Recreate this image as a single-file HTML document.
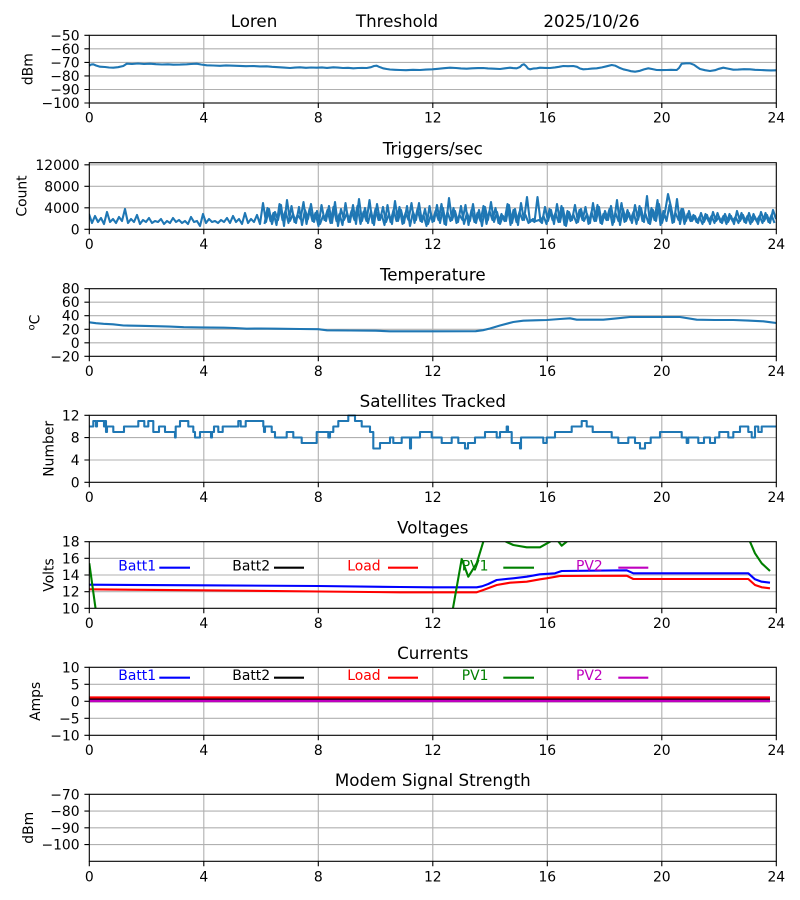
<!DOCTYPE html>
<html><head><meta charset="utf-8"><style>
html,body{margin:0;padding:0;background:#fff;}
svg{display:block;}
text{font-family:"DejaVu Sans","Liberation Sans",sans-serif;fill:#000;}
.t{font-size:13.9px;}
.ti{font-size:16.7px;}
.g{stroke:#b0b0b0;stroke-width:1.1;fill:none;}
.sp{fill:none;stroke:#000;stroke-width:1.1;}
.tk{stroke:#000;stroke-width:1.1;}
.d{fill:none;stroke:#1f77b4;stroke-width:2.1;stroke-linejoin:round;}
</style></head><body>
<svg width="800" height="900" viewBox="0 0 800 900" xmlns="http://www.w3.org/2000/svg">
<rect width="800" height="900" fill="#fff"/>
<defs>
<clipPath id="c5"><rect x="89.3" y="541.7" width="687" height="66.6"/></clipPath>
<clipPath id="c2"><rect x="89.3" y="162.7" width="687" height="66.6"/></clipPath>
</defs>

<!-- ===== Panel 1 ===== -->
<text class="ti" x="254" y="27" text-anchor="middle">Loren</text>
<text class="ti" x="397" y="27" text-anchor="middle">Threshold</text>
<text class="ti" x="591.5" y="27" text-anchor="middle">2025/10/26</text>
<path class="g" d="M89.3 48.8H776.3M89.3 62.4H776.3M89.3 75.9H776.3M89.3 89.5H776.3M203.8 35.3V103M318.3 35.3V103M432.8 35.3V103M547.3 35.3V103M661.8 35.3V103"/>
<polyline class="d" stroke-width="2.3" points="89.3,65.7 91,64.6 93.3,64.3 96,65.5 100,66.7 105,67 109,67.5 113.3,67.7 118,67.2 123.3,66 126.7,63.7 132,64 138,63.5 144,64 150,63.7 156,64.2 162,64.5 168,64.3 173.3,64.7 180,64.6 186.7,64.3 191,64 196.7,63.7 201,64.5 206.7,65.3 213,65.5 220,65.8 226,65.4 233.3,65.7 240,65.9 246,66.2 253.3,66 260,66.4 266.7,66.3 272,66.8 278,67.2 284,67.6 290,68 295,67.6 300,67.3 306,67.8 311,67.5 316.7,67.7 322,67.4 327,67.9 333.3,67.3 338,67.6 343,68 348,67.8 353.3,68.3 358,68 362,67.9 366.7,68 371,67.2 374,66 376.7,65.7 379,66.8 383,68.3 386.7,69 390,69.5 395,69.8 400,70 406,70.2 413,69.8 420,70 426,69.6 432.3,69.3 438,68.8 444,68.2 450,67.7 456,68 461,68.4 466.7,68.7 472,68.3 478,68.1 483.3,68 488,68.4 494,68.7 500,69 505,68.3 510,67.7 513,68.1 516.7,68.3 520,67 522,65 524,64.3 526,66 528,68.5 530,69.3 533,68.6 536.7,68.3 540,67.7 545,67.9 550,68 555,67.4 559,66.8 563.3,66 568,66.2 573.3,66 577,66.8 580,68.5 583.3,69.3 588,69 592,68.6 596.7,68.3 602,67.4 607,66.2 611.7,65 615,65.6 619,67.6 623.3,69.3 628,70.4 631,71.2 635,71.7 640,70.8 644,69.4 648.3,68.3 652,69 656.7,70 661,70.1 666.7,70 671,69.8 676.7,70 679,68 681.7,63.7 686,63.3 690,63.3 694,64.8 697,67 700,69 705,70.2 710,71 715,70.2 719,68.8 723.3,67.7 728,68.6 733.3,69.7 738,69.6 744,69.2 750,69.3 755,69.8 760,70 766.7,70.3 771,70.4 776.3,70.3"/>
<rect class="sp" x="89.3" y="35.3" width="687" height="67.7"/>
<path class="tk" d="M84.4 35.3H89.3M84.4 48.8H89.3M84.4 62.4H89.3M84.4 75.9H89.3M84.4 89.5H89.3M84.4 103H89.3M89.3 103V108M203.8 103V108M318.3 103V108M432.8 103V108M547.3 103V108M661.8 103V108M776.3 103V108"/>
<g class="t" text-anchor="end">
<text x="79.6" y="40.3">−50</text><text x="79.6" y="53.8">−60</text><text x="79.6" y="67.4">−70</text><text x="79.6" y="80.9">−80</text><text x="79.6" y="94.5">−90</text><text x="79.6" y="108">−100</text>
</g>
<g class="t" text-anchor="middle">
<text x="89.3" y="122.5">0</text><text x="203.8" y="122.5">4</text><text x="318.3" y="122.5">8</text><text x="432.8" y="122.5">12</text><text x="547.3" y="122.5">16</text><text x="661.8" y="122.5">20</text><text x="776.3" y="122.5">24</text>
</g>
<text class="t" text-anchor="middle" transform="translate(32.7,69.2) rotate(-90)">dBm</text>

<!-- ===== Panel 2 ===== -->
<text class="ti" x="432.8" y="154.4" text-anchor="middle">Triggers/sec</text>
<path class="g" d="M89.3 164.8H776.3M89.3 186.3H776.3M89.3 207.8H776.3M203.8 162.7V229.3M318.3 162.7V229.3M432.8 162.7V229.3M547.3 162.7V229.3M661.8 162.7V229.3"/>
<g clip-path="url(#c2)">
<polyline class="d" stroke-width="1.6" points="89,214 92,223 95,216 98,222 101,218 104,224 107,212 110,222 113,219 116,223 119,217 122,221 125,209 128,223 131,219 134,222 137,215 140,224 143,220 146,222 149,218 152,223 155,221 158,222 161,219 164,224 167,221 170,223 173,218 176,222 179,220 182,223 185,221 188,224 191,217 194,222 197,221 200,226 203,214 206,223 209,219 212,222 215,221 218,223 221,220 224,222 227,218 230,223 233,216 236,222 239,219 242,224 245,213 248,223 251,219 254,222 257,215 260,224 263,203 266,222 269,209 272,224 275,212 278,220 281,205 284,226 287,200 290,221 293,214 296,223 299,207 302,225 305,210 308,219 311,204 314,222 317,211 320,224 323,216 326,221 329,206 332,223 335,202 338,226 341,209 344,220 347,213 350,222 353,205 356,224 359,199 362,221 365,208 368,223 371,211 374,225 377,204 380,220 383,207 386,222 389,214 392,224 395,201 398,221 401,210 404,223 407,206 410,226 413,212 416,220 419,203 422,222 425,209 428,224 431,215 434,221 437,205 440,223 443,208 446,225 449,198 452,220 455,211 458,222 461,206 464,224 467,213 470,221 473,204 476,223 479,210 482,226 485,207 488,220 491,202 494,222 497,212 500,224 503,216 506,221 509,205 512,223 515,209 518,225 521,203 524,220 527,197 530,222 533,219 536,221 539,220 542,223 545,207 548,221 551,210 554,224 557,204 560,222 563,208 566,226 569,212 572,220 575,205 578,222 581,209 584,221 587,214 590,223 593,203 596,221 599,207 602,224 605,211 608,220 611,206 614,222 617,200 620,225 623,209 626,221 629,213 632,223 635,205 638,220 641,208 644,222 647,196 650,224 653,210 656,221 659,204 662,223 665,212 668,194 671,207 674,222 677,199 680,224 683,209 686,221 689,211 692,221 695,216 698,223 701,213 704,222 707,215 710,224 713,212 716,221 719,217 722,223 725,214 728,222 731,216 734,224 737,211 740,221 743,215 746,223 749,213 752,222 755,217 758,224 761,212 764,221 767,215 770,223 773,210 776,219"/>
<polyline class="d" stroke-width="1.6" points="264.5,224 267.5,208 270.5,221 273.5,213 276.5,225 279.5,204 282.5,220 285.5,211 288.5,223 291.5,206 294.5,222 297.5,215 300.5,219 303.5,202 306.5,224 309.5,209 312.5,221 315.5,213 318.5,226 321.5,205 324.5,220 327.5,210 330.5,223 333.5,207 336.5,221 339.5,214 342.5,225 345.5,203 348.5,222 351.5,211 354.5,220 357.5,206 360.5,224 363.5,212 366.5,221 369.5,200 372.5,223 375.5,209 378.5,220 381.5,214 384.5,225 387.5,205 390.5,222 393.5,210 396.5,221 399.5,207 402.5,224 405.5,213 408.5,220 411.5,203 414.5,223 417.5,209 420.5,221 423.5,215 426.5,226 429.5,206 432.5,222 435.5,211 438.5,220 441.5,204 444.5,224 447.5,212 450.5,221 453.5,208 456.5,223 459.5,215 462.5,220 465.5,205 468.5,225 471.5,210 474.5,222 477.5,213 480.5,221 483.5,206 486.5,224 489.5,211 492.5,220 495.5,208 498.5,223 501.5,214 504.5,221 507.5,204 510.5,225 513.5,210 516.5,222 519.5,212 522.5,220 525.5,215 528.5,223 531.5,220 534.5,222 537.5,197 540.5,221 543.5,216 546.5,224 549.5,209 552.5,220 555.5,213 558.5,222 561.5,206 564.5,225 567.5,211 570.5,221 573.5,215 576.5,223 579.5,210 582.5,220 585.5,207 588.5,224 591.5,212 594.5,221 597.5,205 600.5,223 603.5,214 606.5,220 609.5,209 612.5,225 615.5,213 618.5,221 621.5,203 624.5,222 627.5,210 630.5,220 633.5,212 636.5,224 639.5,206 642.5,221 645.5,214 648.5,223 651.5,208 654.5,220 657.5,200 660.5,225 663.5,211 666.5,221 669.5,205 672.5,223 675.5,213 678.5,220 681.5,209 684.5,224 687.5,214 690.5,221 693.5,215 696.5,222 699.5,217 702.5,224 705.5,214 708.5,221 711.5,216 714.5,223 717.5,213 720.5,222 723.5,216 726.5,224 729.5,214 732.5,221 735.5,217 738.5,223 741.5,213 744.5,222 747.5,216 750.5,224 753.5,214 756.5,221 759.5,216 762.5,223 765.5,213 768.5,222 771.5,215 774.5,223"/>
</g>
<rect class="sp" x="89.3" y="162.7" width="687" height="66.6"/>
<path class="tk" d="M84.4 164.8H89.3M84.4 186.3H89.3M84.4 207.8H89.3M84.4 229.3H89.3M89.3 229.3V234.2M203.8 229.3V234.2M318.3 229.3V234.2M432.8 229.3V234.2M547.3 229.3V234.2M661.8 229.3V234.2M776.3 229.3V234.2"/>
<g class="t" text-anchor="end">
<text x="79.6" y="169.8">12000</text><text x="79.6" y="191.3">8000</text><text x="79.6" y="212.8">4000</text><text x="79.6" y="234.3">0</text>
</g>
<g class="t" text-anchor="middle">
<text x="89.3" y="248.8">0</text><text x="203.8" y="248.8">4</text><text x="318.3" y="248.8">8</text><text x="432.8" y="248.8">12</text><text x="547.3" y="248.8">16</text><text x="661.8" y="248.8">20</text><text x="776.3" y="248.8">24</text>
</g>
<text class="t" text-anchor="middle" transform="translate(26.7,196) rotate(-90)">Count</text>

<!-- ===== Panel 3 ===== -->
<text class="ti" x="432.8" y="280.4" text-anchor="middle">Temperature</text>
<path class="g" d="M89.3 302.2H776.3M89.3 315.7H776.3M89.3 329.3H776.3M89.3 342.8H776.3M203.8 288.7V356.3M318.3 288.7V356.3M432.8 288.7V356.3M547.3 288.7V356.3M661.8 288.7V356.3"/>
<polyline class="d" points="89.3,322.3 96,323.2 103.6,323.8 113,324.3 123.6,325.5 140,325.8 160.9,326.3 170,326.6 183.8,327.2 200,327.4 223.8,327.7 235,328 246.7,328.7 260,328.5 275.4,328.7 300,329 318.3,329.2 327,330.3 350,330.5 375.6,330.7 389.8,331.3 432.8,331.3 475.7,331.2 483,330.2 490,328.5 500,325.5 513.3,322 523.3,320.7 535,320.3 546.7,320 560,319 570,318.3 576.7,319.7 603.3,319.7 615,318.6 630,317 655,317 680,317 696.7,319.7 715,320 733.3,320 748,320.6 763.3,321.3 770,322.2 776.3,323"/>
<rect class="sp" x="89.3" y="288.7" width="687" height="67.6"/>
<path class="tk" d="M84.4 288.7H89.3M84.4 302.2H89.3M84.4 315.7H89.3M84.4 329.3H89.3M84.4 342.8H89.3M84.4 356.3H89.3M89.3 356.3V361.2M203.8 356.3V361.2M318.3 356.3V361.2M432.8 356.3V361.2M547.3 356.3V361.2M661.8 356.3V361.2M776.3 356.3V361.2"/>
<g class="t" text-anchor="end">
<text x="79.6" y="293.7">80</text><text x="79.6" y="307.2">60</text><text x="79.6" y="320.7">40</text><text x="79.6" y="334.3">20</text><text x="79.6" y="347.8">0</text><text x="79.6" y="361.3">−20</text>
</g>
<g class="t" text-anchor="middle">
<text x="89.3" y="375.8">0</text><text x="203.8" y="375.8">4</text><text x="318.3" y="375.8">8</text><text x="432.8" y="375.8">12</text><text x="547.3" y="375.8">16</text><text x="661.8" y="375.8">20</text><text x="776.3" y="375.8">24</text>
</g>
<text class="t" text-anchor="middle" transform="translate(39.3,322.5) rotate(-90)"><tspan font-size="9.7px" dy="-5">o</tspan><tspan dy="5">C</tspan></text>

<!-- ===== Panel 4 ===== -->
<text class="ti" x="432.8" y="407" text-anchor="middle">Satellites Tracked</text>
<path class="g" d="M89.3 437.6H776.3M89.3 460H776.3M203.8 415.3V482.3M318.3 415.3V482.3M432.8 415.3V482.3M547.3 415.3V482.3M661.8 415.3V482.3"/>
<path class="d" d="M89.3 426.5H93.3V421H96V426.5H97V421H104V426.5H105V421H106V432H107V426.5H113.3V432H124V426.5H138.3V421H144.3V426.5H148.3V421H153.3V432H159V426.5H165V432H175V437.5H175.7V426.5H180V421H188.3V426.5H193.3V432H195V437.5H200V432H211V437.5H212V432H214V426.5H218.3V432H222.7V426.5H238.3V421H240.7V426.5H245.7V421H263.3V426.5H264V432H265V426.5H271.7V432H275V437.5H286.7V432H293.3V437.5H301.7V443H316.7V432H328.3V437.5H330V432H333.3V426.5H338.3V421H348.3V415.5H355V421H361.7V426.5H370V432H373.3V448.5H380V443H390V437.5H393.3V443H401.7V437.5H410V448.5H411V437.5H420V432H431.7V437.5H441.7V443H451.7V437.5H458.3V443H465V448.5H468V443H475V437.5H485V432H496.7V437.5H500V432H506.7V426.5H508V432H511.7V443H520V448.5H521V437.5H543.3V443H546.7V437.5H555V432H571.7V426.5H581.7V421H586.7V426.5H592.7V432H611.7V437.5H618.3V443H628.3V437.5H635V443H640V448.5H645V443H650.7V437.5H660V432H681.7V437.5H686.7V443H688.3V437.5H698.3V443H704V437.5H710V443H715V437.5H719.3V432H728.3V437.5H733.3V432H740V426.5H748.3V432H751.7V437.5H755V426.5H758.3V432H761.7V426.5H776.3"/>
<rect class="sp" x="89.3" y="415.3" width="687" height="67"/>
<path class="tk" d="M84.4 415.3H89.3M84.4 437.6H89.3M84.4 460H89.3M84.4 482.3H89.3M89.3 482.3V487.2M203.8 482.3V487.2M318.3 482.3V487.2M432.8 482.3V487.2M547.3 482.3V487.2M661.8 482.3V487.2M776.3 482.3V487.2"/>
<g class="t" text-anchor="end">
<text x="79.6" y="420.3">12</text><text x="79.6" y="442.6">8</text><text x="79.6" y="465">4</text><text x="79.6" y="487.3">0</text>
</g>
<g class="t" text-anchor="middle">
<text x="89.3" y="501.8">0</text><text x="203.8" y="501.8">4</text><text x="318.3" y="501.8">8</text><text x="432.8" y="501.8">12</text><text x="547.3" y="501.8">16</text><text x="661.8" y="501.8">20</text><text x="776.3" y="501.8">24</text>
</g>
<text class="t" text-anchor="middle" transform="translate(53.3,448.8) rotate(-90)">Number</text>

<!-- ===== Panel 5 ===== -->
<text class="ti" x="432.8" y="533.4" text-anchor="middle">Voltages</text>
<path class="g" d="M89.3 558.35H776.3M89.3 575H776.3M89.3 591.65H776.3M203.8 541.7V608.3M318.3 541.7V608.3M432.8 541.7V608.3M547.3 541.7V608.3M661.8 541.7V608.3"/>
<g clip-path="url(#c5)" fill="none" stroke-width="2.1" stroke-linejoin="round">
<polyline stroke="#0000ff" points="89.3,584.7 200,585.3 318.3,586 400,587 432.8,587.3 476.7,587.3 482,586.3 488.3,584 496.7,580 513.3,578.3 526.7,576.7 540,574.3 555,573.3 561.7,571 626.7,570.3 633.3,573.3 748.3,573.3 755,579.3 761.7,581.7 770,582.7"/>
<polyline stroke="#ff0000" points="89.3,589.3 200,590.3 318.3,591.5 400,592.3 476.7,592.3 483.3,590 490,587.5 496.7,585 510,582.7 526.7,581.7 540,579.3 546.7,578.3 560,576 626.7,575.7 633.3,579 748.3,579 755,585 761.7,587.3 770,588.3"/>
<polyline stroke="#008000" points="89.3,563.3 97,619"/>
<polyline stroke="#008000" points="450,625 461.7,559 468.3,576.7 476.7,563.3 483.3,541.7 488,525 500,525 506,541.7 513.3,545 526.7,547.3 540,547.3 550,541.7 555,535 558,541 561.7,545.7 566.7,541.7 572,525 745,525 750,541.7 755,553.3 761.7,563.3 770,571"/>
</g>
<g font-size="13.9px">
<text x="118.3" y="570.5" style="fill:#0000ff">Batt1</text><path d="M159.3 567.7H190" stroke="#0000ff" stroke-width="2.1"/>
<text x="232.3" y="570.5" style="fill:#000">Batt2</text><path d="M274 567.7H304" stroke="#000" stroke-width="2.1"/>
<text x="347.3" y="570.5" style="fill:#ff0000">Load</text><path d="M388 567.7H418" stroke="#ff0000" stroke-width="2.1"/>
<text x="461.7" y="570.5" style="fill:#008000">PV1</text><path d="M503.3 567.7H534" stroke="#008000" stroke-width="2.1"/>
<text x="576" y="570.5" style="fill:#bf00bf">PV2</text><path d="M618.3 567.7H648.3" stroke="#bf00bf" stroke-width="2.1"/>
</g>
<rect class="sp" x="89.3" y="541.7" width="687" height="66.6"/>
<path class="tk" d="M84.4 541.7H89.3M84.4 558.35H89.3M84.4 575H89.3M84.4 591.65H89.3M84.4 608.3H89.3M89.3 608.3V613.2M203.8 608.3V613.2M318.3 608.3V613.2M432.8 608.3V613.2M547.3 608.3V613.2M661.8 608.3V613.2M776.3 608.3V613.2"/>
<g class="t" text-anchor="end">
<text x="79.6" y="546.7">18</text><text x="79.6" y="563.35">16</text><text x="79.6" y="580">14</text><text x="79.6" y="596.65">12</text><text x="79.6" y="613.3">10</text>
</g>
<g class="t" text-anchor="middle">
<text x="89.3" y="627.8">0</text><text x="203.8" y="627.8">4</text><text x="318.3" y="627.8">8</text><text x="432.8" y="627.8">12</text><text x="547.3" y="627.8">16</text><text x="661.8" y="627.8">20</text><text x="776.3" y="627.8">24</text>
</g>
<text class="t" text-anchor="middle" transform="translate(53.3,575) rotate(-90)">Volts</text>

<!-- ===== Panel 6 ===== -->
<text class="ti" x="432.8" y="659" text-anchor="middle">Currents</text>
<path class="g" d="M89.3 684.3H776.3M89.3 701.3H776.3M89.3 718.3H776.3M203.8 667.3V735.3M318.3 667.3V735.3M432.8 667.3V735.3M547.3 667.3V735.3M661.8 667.3V735.3"/>
<g fill="none" stroke-width="2.1">
<path d="M89.3 701H770" stroke="#0000ff"/>
<path d="M89.3 699.2H770" stroke="#000"/>
<path d="M89.3 697.4H770" stroke="#ff0000"/>
<path d="M89.3 701.2H770" stroke="#008000"/>
<path d="M89.3 701H770" stroke="#bf00bf" stroke-width="2.4"/>
</g>
<g font-size="13.9px">
<text x="118.3" y="680" style="fill:#0000ff">Batt1</text><path d="M159.3 677.7H190" stroke="#0000ff" stroke-width="2.1"/>
<text x="232.3" y="680" style="fill:#000">Batt2</text><path d="M274 677.7H304" stroke="#000" stroke-width="2.1"/>
<text x="347.3" y="680" style="fill:#ff0000">Load</text><path d="M388 677.7H418" stroke="#ff0000" stroke-width="2.1"/>
<text x="461.7" y="680" style="fill:#008000">PV1</text><path d="M503.3 677.7H534" stroke="#008000" stroke-width="2.1"/>
<text x="576" y="680" style="fill:#bf00bf">PV2</text><path d="M618.3 677.7H648.3" stroke="#bf00bf" stroke-width="2.1"/>
</g>
<rect class="sp" x="89.3" y="667.3" width="687" height="68"/>
<path class="tk" d="M84.4 667.3H89.3M84.4 684.3H89.3M84.4 701.3H89.3M84.4 718.3H89.3M84.4 735.3H89.3M89.3 735.3V740.2M203.8 735.3V740.2M318.3 735.3V740.2M432.8 735.3V740.2M547.3 735.3V740.2M661.8 735.3V740.2M776.3 735.3V740.2"/>
<g class="t" text-anchor="end">
<text x="79.6" y="672.3">10</text><text x="79.6" y="689.3">5</text><text x="79.6" y="706.3">0</text><text x="79.6" y="723.3">−5</text><text x="79.6" y="740.3">−10</text>
</g>
<g class="t" text-anchor="middle">
<text x="89.3" y="754.8">0</text><text x="203.8" y="754.8">4</text><text x="318.3" y="754.8">8</text><text x="432.8" y="754.8">12</text><text x="547.3" y="754.8">16</text><text x="661.8" y="754.8">20</text><text x="776.3" y="754.8">24</text>
</g>
<text class="t" text-anchor="middle" transform="translate(40.2,701.3) rotate(-90)">Amps</text>

<!-- ===== Panel 7 ===== -->
<text class="ti" x="432.8" y="786" text-anchor="middle">Modem Signal Strength</text>
<path class="g" d="M89.3 811.05H776.3M89.3 827.8H776.3M89.3 844.55H776.3M203.8 794.3V861.3M318.3 794.3V861.3M432.8 794.3V861.3M547.3 794.3V861.3M661.8 794.3V861.3"/>
<rect class="sp" x="89.3" y="794.3" width="687" height="67"/>
<path class="tk" d="M84.4 794.3H89.3M84.4 811.05H89.3M84.4 827.8H89.3M84.4 844.55H89.3M89.3 861.3V866.2M203.8 861.3V866.2M318.3 861.3V866.2M432.8 861.3V866.2M547.3 861.3V866.2M661.8 861.3V866.2M776.3 861.3V866.2"/>
<g class="t" text-anchor="end">
<text x="79.6" y="799.3">−70</text><text x="79.6" y="816.05">−80</text><text x="79.6" y="832.8">−90</text><text x="79.6" y="849.55">−100</text>
</g>
<g class="t" text-anchor="middle">
<text x="89.3" y="881.3">0</text><text x="203.8" y="881.3">4</text><text x="318.3" y="881.3">8</text><text x="432.8" y="881.3">12</text><text x="547.3" y="881.3">16</text><text x="661.8" y="881.3">20</text><text x="776.3" y="881.3">24</text>
</g>
<text class="t" text-anchor="middle" transform="translate(33,827.8) rotate(-90)">dBm</text>
</svg>
</body></html>
